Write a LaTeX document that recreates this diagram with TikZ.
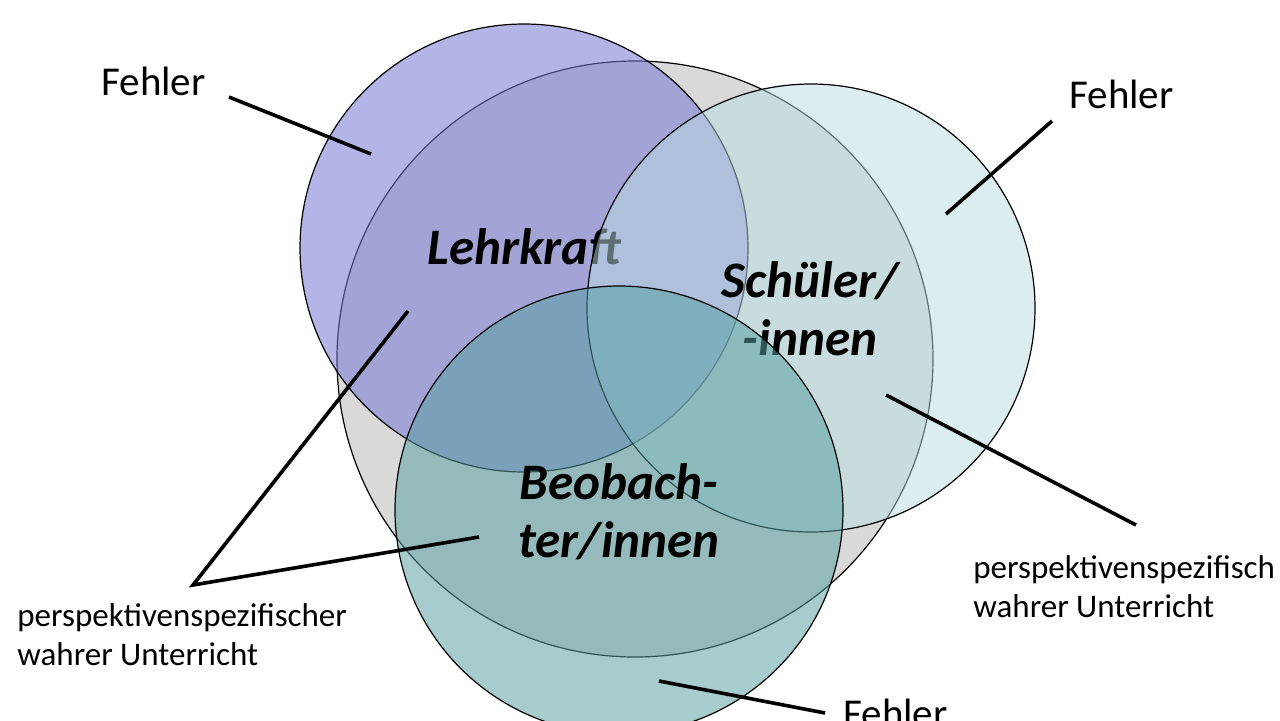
\documentclass[tikz,border=0pt]{standalone}
\usepackage{fontspec}
\setmainfont{Carlito}
\definecolor{grayfill}{RGB}{217,217,217}
\definecolor{bluefill}{RGB}{120,120,210}
\definecolor{ltealfill}{RGB}{185,221,225}
\definecolor{tealfill}{RGB}{87,159,162}
\begin{document}
\begin{tikzpicture}[x=0.5pt,y=-0.5pt,
  venn/.style={circle, draw=black, line width=0.6pt, inner sep=0pt},
  pointer/.style={line width=1.8pt, line join=miter},
  fehler/.style={inner sep=0pt, anchor=base west, font=\fontsize{20.5pt}{24pt}\selectfont},
  persp/.style={inner sep=0pt, anchor=base west, align=left, font=\fontsize{16.5pt}{19.2pt}\selectfont},
  role/.style={inner sep=0pt, align=center, font=\fontsize{25.6pt}{28.8pt}\selectfont\bfseries\itshape}]
\useasboundingbox (0,0) rectangle (1280,720);
\clip (0,0) rectangle (1280,720);
\fill[white] (0,0) rectangle (1280,720);
% circles and role labels (layer order matters)
\node[venn, fill=grayfill, minimum size=298pt] (wahr) at (635,359) {};
\node[venn, fill=bluefill, fill opacity=0.55, minimum size=224pt] (lehr) at (524,248) {};
\node[role, anchor=base west] (lehrtxt) at (427,264) {Lehrkraft};
\node[venn, fill=ltealfill, fill opacity=0.5, minimum size=224pt] (schue) at (811,308) {};
\node[role, anchor=base] (schuetxt) at (810,355) {Schüler/\\-innen};
\node[venn, fill=tealfill, fill opacity=0.53, minimum size=224pt] (beob) at (619,510) {};
\node[role, anchor=base] (beobtxt) at (619,557) {Beobach-\\ter/innen};
% text labels
\node[fehler] (fTL) at (101,95) {Fehler};
\node[fehler] (fTR) at (1069,108) {Fehler};
\node[fehler] (fB) at (843,727) {Fehler};
\node[persp] (pL) at (17,665) {perspektivenspezifischer\\wahrer Unterricht};
\node[persp] (pR) at (973,617) {perspektivenspezifisch\\wahrer Unterricht};
% pointer end points
\coordinate (aTL1) at (229,97);  \coordinate (aTL2) at (371,154);
\coordinate (aTR1) at (1052,121); \coordinate (aTR2) at (946,214);
\coordinate (aB1) at (825,713);  \coordinate (aB2) at (659,681);
\coordinate (vL) at (193,585);
\coordinate (aL1) at (408,311);  \coordinate (aL2) at (479,537);
\coordinate (aR1) at (1136,525); \coordinate (aR2) at (886,395);
% pointers
\draw[pointer] (aTL1) -- (aTL2);
\draw[pointer] (aTR1) -- (aTR2);
\draw[pointer] (aB1) -- (aB2);
\draw[pointer] (aL1) -- (vL) -- (aL2);
\draw[pointer] (aR1) -- (aR2);
\end{tikzpicture}
\end{document}
